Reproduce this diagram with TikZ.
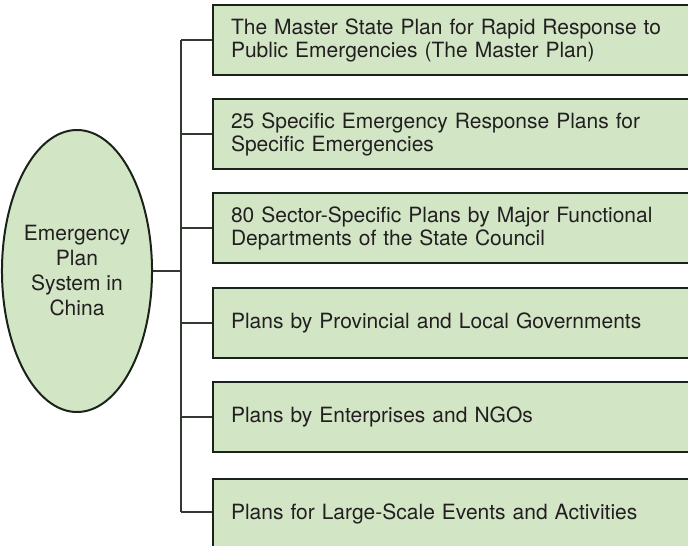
\documentclass[tikz,border=0pt]{standalone}
\usepackage{fontspec}
\setmainfont{TeX Gyre Heros}
\definecolor{lgreen}{HTML}{D2E6C6}
\definecolor{dline}{HTML}{1A2319}
\definecolor{dtext}{HTML}{231F20}
\usetikzlibrary{shapes.geometric}

\begin{document}
\begin{tikzpicture}[
      x=.5pt, y=-.5pt,
      every node/.style={text=dtext},
      planbox/.style={draw=dline, fill=lgreen, line width=1pt, rectangle,
        anchor=west, minimum width=240pt, minimum height=35pt,
        text width=222pt, inner xsep=8.5pt, align=left,
        font=\fontsize{10.5}{11.5}\selectfont},
      link/.style={draw=dline!90!white, line width=.8pt}]
        \useasboundingbox (0,0) rectangle (688,545);

        \node[ellipse, draw=dline, fill=lgreen, line width=1pt,
          minimum width=69.5pt, minimum height=141pt, inner sep=0pt,
          align=center, font=\fontsize{10.5}{12.5}\selectfont]
          (system) at (77,271) {Emergency\\Plan\\System in\\China};

        \node[planbox] (plan1) at (212,40)
          {The Master State Plan for Rapid Response to\\Public Emergencies (The Master Plan)};
        \node[planbox] (plan2) at (212,134)
          {25 Specific Emergency Response Plans for\\Specific Emergencies};
        \node[planbox] (plan3) at (212,228)
          {80 Sector-Specific Plans by Major Functional\\Departments of the State Council};
        \node[planbox] (plan4) at (212,323)
          {Plans by Provincial and Local Governments};
        \node[planbox] (plan5) at (212,417)
          {Plans by Enterprises and NGOs};
        \node[planbox] (plan6) at (212,514)
          {Plans for Large-Scale Events and Activities};

        % trunk
        \coordinate (top) at (181,40);
        \coordinate (bot) at (181,512);
        \draw[link] (top) -- (bot);
        \draw[link] (system.east) -- (system.east -| top);

        \foreach \p in {plan1, plan2, plan3, plan4, plan5}
          \draw[link] (\p.west) -- (\p.west -| top);
        \draw[link] (bot) -- (bot -| plan6.west);

      \end{tikzpicture}
\end{document}
